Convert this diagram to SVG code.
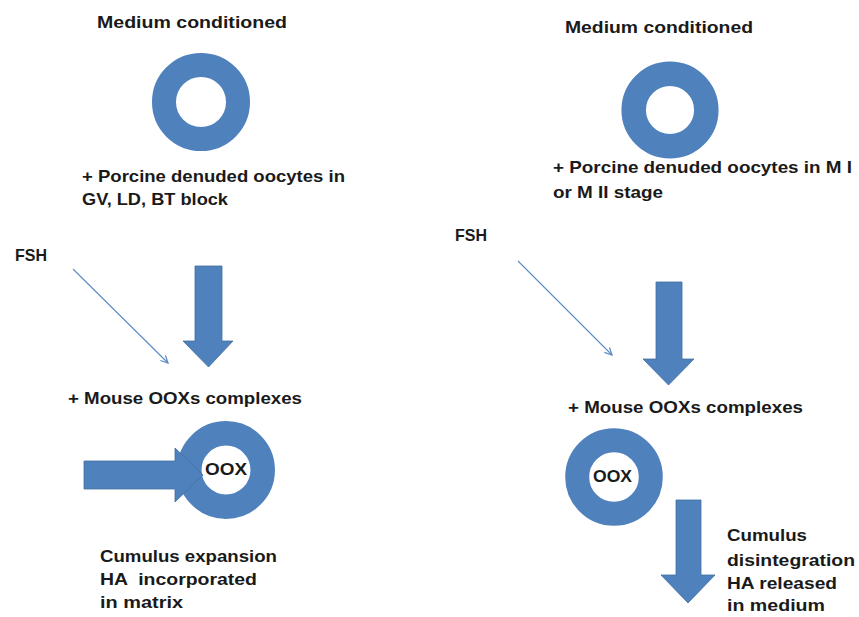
<svg xmlns="http://www.w3.org/2000/svg" width="859" height="617" viewBox="0 0 859 617">
<defs>
<style>
.t{font-family:"Liberation Sans",Arial,sans-serif;font-size:17px;font-weight:bold;fill:#1a1a1a}
.ring{fill:none;stroke:#4F81BD}
.blk{fill:#4F81BD;stroke:#43709f;stroke-width:0.8}
.thin{fill:none;stroke:#5b8ac4;stroke-width:1.1}
</style>
<marker id="ah" viewBox="0 0 10 10" refX="9" refY="5" markerWidth="9" markerHeight="9" markerUnits="userSpaceOnUse" orient="auto">
<path d="M1,1 L9,5 L1,9" fill="none" stroke="#5b8ac4" stroke-width="1.4"/>
</marker>
</defs>
<rect width="859" height="617" fill="#fff"/>

<g id="left-top">
<text class="t" x="97" y="28" textLength="190" lengthAdjust="spacingAndGlyphs">Medium conditioned</text>
<circle class="ring" cx="201" cy="102" r="37" stroke-width="24"/>
<text class="t" x="82" y="182" textLength="263" lengthAdjust="spacingAndGlyphs">+ Porcine denuded oocytes in</text>
<text class="t" x="82" y="205" textLength="146" lengthAdjust="spacingAndGlyphs">GV, LD, BT block</text>
</g>

<g id="right-top">
<text class="t" x="565" y="33" textLength="188" lengthAdjust="spacingAndGlyphs">Medium conditioned</text>
<circle class="ring" cx="670" cy="110" r="36.3" stroke-width="24.5"/>
<text class="t" x="553" y="173" textLength="299" lengthAdjust="spacingAndGlyphs">+ Porcine denuded oocytes in M I</text>
<text class="t" x="553" y="198" textLength="110" lengthAdjust="spacingAndGlyphs">or M II stage</text>
</g>

<g id="left-fsh">
<text class="t" x="15" y="261" textLength="32" lengthAdjust="spacingAndGlyphs">FSH</text>
</g>
<g id="right-fsh">
<text class="t" x="455" y="241" textLength="32" lengthAdjust="spacingAndGlyphs">FSH</text>
</g>

<g id="left-bottom">
<text class="t" x="68" y="404" textLength="234" lengthAdjust="spacingAndGlyphs">+ Mouse OOXs complexes</text>
<circle class="ring" cx="226" cy="470" r="36.7" stroke-width="24.5"/>
<text class="t" x="205" y="475" textLength="42" lengthAdjust="spacingAndGlyphs">OOX</text>
<text class="t" x="100" y="562" textLength="177" lengthAdjust="spacingAndGlyphs">Cumulus expansion</text>
<text class="t" x="100" y="585" textLength="157" lengthAdjust="spacingAndGlyphs" xml:space="preserve">HA  incorporated</text>
<text class="t" x="100" y="608" textLength="83" lengthAdjust="spacingAndGlyphs">in matrix</text>
</g>

<g id="right-bottom">
<text class="t" x="568" y="413" textLength="235" lengthAdjust="spacingAndGlyphs">+ Mouse OOXs complexes</text>
<circle class="ring" cx="614" cy="477" r="36.8" stroke-width="24"/>
<text class="t" x="593" y="482" textLength="39" lengthAdjust="spacingAndGlyphs">OOX</text>
<text class="t" x="727" y="541" textLength="80" lengthAdjust="spacingAndGlyphs">Cumulus</text>
<text class="t" x="727" y="566" textLength="128" lengthAdjust="spacingAndGlyphs">disintegration</text>
<text class="t" x="727" y="589" textLength="110" lengthAdjust="spacingAndGlyphs">HA released</text>
<text class="t" x="727" y="611" textLength="98" lengthAdjust="spacingAndGlyphs">in medium</text>
</g>

<g id="connectors">
<line class="thin" x1="73" y1="269" x2="168" y2="363" marker-end="url(#ah)"/>
<line class="thin" x1="518" y1="261" x2="612" y2="355" marker-end="url(#ah)"/>
<path class="blk" d="M195,266 L222,266 L222,341 L233,341 L208.5,367 L183,341 L195,341 Z"/>
<path class="blk" d="M656,282 L682,282 L682,359 L694,359 L668.5,385 L643,359 L656,359 Z"/>
<path class="blk" d="M84,461 L175,461 L175,448 L203,475 L175,502 L175,489 L84,489 Z"/>
<path class="blk" d="M676,500 L701,500 L701,575 L715,575 L688,603 L661,575 L676,575 Z"/>
</g>
</svg>
